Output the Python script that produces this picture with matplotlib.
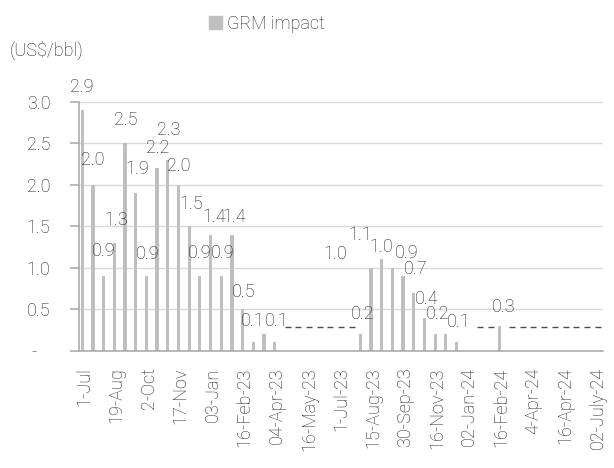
import matplotlib
matplotlib.use("Agg")
import matplotlib.pyplot as plt
from matplotlib.patches import Patch
import numpy as np

plt.rcParams["font.family"] = ["Roboto", "DejaVu Sans"]
plt.rcParams["font.weight"] = "light"

# GRM impact per revision date (US$/bbl); None = no impact in that period
grm_impact = [2.9, 2.0, 0.9, 1.3, 2.5, 1.9, 0.9, 2.2, 2.3, 2.0,
              1.5, 0.9, 1.4, 0.9, 1.4, 0.5, 0.1, 0.2, 0.1,
              None, None, None, None, None, None, None,
              0.2, 1.0, 1.1, 1.0, 0.9, 0.7, 0.4, 0.2, 0.2, 0.1,
              None, None, None, 0.3,
              None, None, None, None, None, None, None, None, None]

# Reference level shown as a dashed marker where there is no GRM impact
ref_level = [None] * 19 + [0.28] * 7 + [None] * 11 + [0.28] * 2 + [None] + [0.28] * 9

# Every third revision date is labelled on the axis
tick_labels = ["1-Jul", "19-Aug", "2-Oct", "17-Nov", "03-Jan", "16-Feb-23",
               "04-Apr-23", "16-May-23", "1-Jul-23", "15-Aug-23", "30-Sep-23",
               "16-Nov-23", "02-Jan-24", "16-Feb-24", "4-Apr-24", "16-Apr-24",
               "02-July-24"]

y_ticks = [0, 0.5, 1.0, 1.5, 2.0, 2.5, 3.0]
y_tick_labels = ["-   ", "0.5", "1.0", "1.5", "2.0", "2.5", "3.0"]

# Which bars carry a value label, and where the label sits (pixels from bar top)
hidden_labels = {17, 34}
label_shift = {0: (0, 25), 1: (0, 26), 2: (0, 27), 3: (1.5, 24), 4: (1, 25),
               5: (1, 25.5), 6: (1, 23.5), 7: (0.5, 22), 8: (1.3, 31),
               9: (0.6, 20), 10: (1.7, 24), 11: (0, 25), 12: (3.5, 19.5),
               13: (1.3, 25), 14: (2, 19.5), 15: (1.4, 18.5), 16: (-0.7, 22.5),
               18: (2, 22.5), 26: (2, 21.5), 27: (-36, 15.5), 28: (-21.5, 25.5),
               29: (-11, 22.5), 30: (3.8, 24), 31: (2.4, 25), 32: (2.7, 20),
               33: (3, 21.5), 35: (2.7, 21.5), 39: (4.2, 20)}

TEXT = "#1f1f1f"
BAR = "#BFBFBF"
AXIS = "#A6A6A6"
GRID = "#D9D9D9"
FS = 13

W, H = 614, 468
fig = plt.figure(figsize=(W / 100, H / 100), dpi=100)
x0, x1, yb, yt = 79, 603, 350.7, 101.7
ax = fig.add_axes([x0 / W, (H - yb) / H, (x1 - x0) / W, (yb - yt) / H])

n = len(grm_impact)
idx = np.arange(n)
bar_vals = np.array([np.nan if v is None else v for v in grm_impact])
ref_vals = np.array([np.nan if v is None else v for v in ref_level])

bar_x = idx - 0.2
ax.bar(bar_x, np.nan_to_num(bar_vals), width=0.3, color=BAR, zorder=2)
ax.plot(idx, ref_vals, linestyle="none", marker="_", markersize=4.4,
        markeredgewidth=1.0, color="#4d4d4d", zorder=3)

px2pt = 72 / 100
for i, v in enumerate(grm_impact):
    if v is None or i in hidden_labels:
        continue
    dx, dy = label_shift.get(i, (1, 24))
    ax.annotate(f"{v:.1f}", (bar_x[i], v), xytext=(dx * px2pt, (dy - 6.5) * px2pt),
                textcoords="offset points", ha="center", va="baseline",
                fontsize=FS, color=TEXT, annotation_clip=False, zorder=4)

ax.set_xlim(-0.5, n - 0.5)
ax.set_ylim(0, 3.0)
ax.set_yticks(y_ticks)
ax.set_yticklabels(y_tick_labels)
ax.set_xticks(idx[::3])
ax.set_xticklabels(tick_labels, rotation=90)

ax.tick_params(axis="y", direction="out", length=6.5, width=1.1, color=AXIS,
               pad=14, labelsize=FS, labelcolor=TEXT)
ax.tick_params(axis="x", length=0, pad=12, labelsize=FS, labelcolor=TEXT)

ax.yaxis.grid(True, color=GRID, linewidth=1.0)
ax.set_axisbelow(True)
for s in ("top", "right"):
    ax.spines[s].set_visible(False)
for s in ("left", "bottom"):
    ax.spines[s].set_color(AXIS)
    ax.spines[s].set_linewidth(1.1)

fig.text(10 / W, 1 - 50 / H, "(US$/bbl)", fontsize=FS, color=TEXT,
         ha="left", va="center")
fig.legend(handles=[Patch(color=BAR)], labels=["GRM impact"], loc="center",
           bbox_to_anchor=(267 / W, 1 - 24 / H), frameon=False, fontsize=FS,
           handlelength=0.7, handleheight=0.7, handletextpad=0.3,
           labelcolor=TEXT, borderpad=0)

fig.savefig("out.png", dpi=100)
